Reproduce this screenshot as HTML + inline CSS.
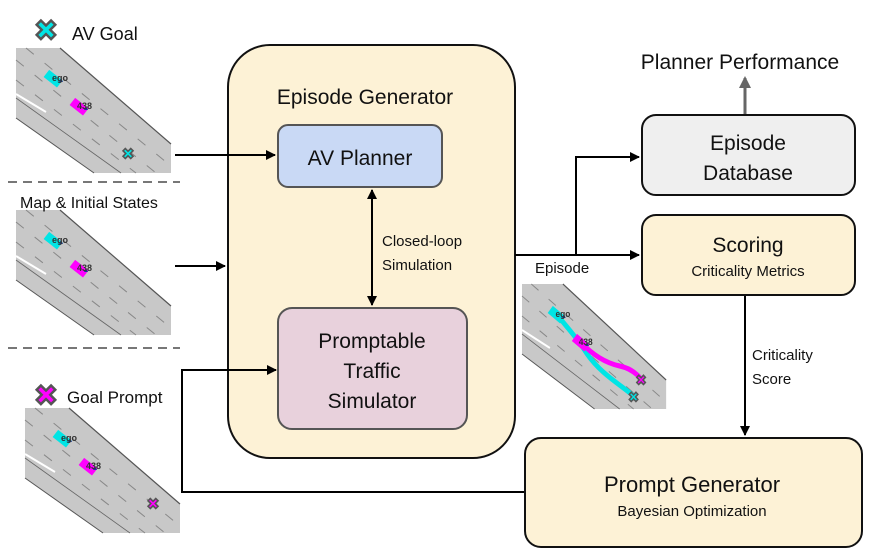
<!DOCTYPE html>
<html><head><meta charset="utf-8"><style>
body{margin:0;background:#fff;}
svg{display:block;font-family:"Liberation Sans",Arial,sans-serif;}
</style></head><body>
<svg width="894" height="552" viewBox="0 0 894 552" xmlns="http://www.w3.org/2000/svg">
<defs>
<marker id="ah" markerWidth="10" markerHeight="10" refX="9" refY="5" orient="auto" markerUnits="userSpaceOnUse">
<path d="M0,0 L10,5 L0,10 z" fill="#000"/></marker>
<marker id="ahs" markerWidth="10" markerHeight="10" refX="9" refY="5" orient="auto-start-reverse" markerUnits="userSpaceOnUse">
<path d="M0,0 L10,5 L0,10 z" fill="#000"/></marker>
<marker id="ahg" markerWidth="12" markerHeight="12" refX="10" refY="6" orient="auto" markerUnits="userSpaceOnUse">
<path d="M0,0 L12,6 L0,12 z" fill="#666"/></marker>
<g id="road">
<rect x="0" y="0" width="155" height="125" fill="#fff"/>
<polygon points="0,0 44,0 155,96 155,125 78,125 0,70" fill="#c8c8c8"/>
<line x1="44" y1="0" x2="155" y2="96" stroke="#555" stroke-width="1.2"/>
<line x1="0" y1="70" x2="78" y2="125" stroke="#555" stroke-width="1"/>
<line x1="0" y1="46" x2="30" y2="64" stroke="#fff" stroke-width="2"/>
<line x1="0" y1="50" x2="105" y2="125" stroke="#666" stroke-width="0.8"/>
<g stroke="#888" stroke-width="1" stroke-dasharray="10,14">
<line x1="0" y1="12" x2="140" y2="125"/>
<line x1="10" y1="0" x2="155" y2="118"/>
<line x1="0" y1="32" x2="120" y2="125"/>
</g>
</g>
<g id="cars">
<rect x="-8" y="-4" width="17" height="9" fill="#00e5e5" transform="translate(37,30) rotate(38)"/>
<rect x="-8" y="-4" width="17" height="9" fill="#f0f" transform="translate(63,58) rotate(38)"/>
<path d="M43,34 l2,-4 l2,4z" fill="#1a3a8a"/>
<path d="M68,62 l2,-4 l2,4z" fill="#1a3a8a"/>
<text x="36" y="33" font-size="9" fill="#333" font-weight="bold">ego</text>
<text x="61" y="61" font-size="9" fill="#333" font-weight="bold">438</text>
</g>
</defs>

<g transform="translate(16,48)"><use href="#road"/><use href="#cars"/>
<text x="112" y="111" font-size="15" font-weight="bold" fill="#00e5e5" stroke="#555" stroke-width="1" text-anchor="middle">✖</text></g>
<g transform="translate(16,210)"><use href="#road"/><use href="#cars"/></g>
<g transform="translate(25,408)"><use href="#road"/><use href="#cars"/>
<text x="128" y="101" font-size="15" font-weight="bold" fill="#f0f" stroke="#555" stroke-width="1" text-anchor="middle">✖</text></g>

<text x="46" y="40" font-size="28" font-weight="bold" fill="#00e5e5" stroke="#555" stroke-width="1.5" text-anchor="middle">✖</text>
<text x="72" y="40" font-size="18" fill="#111">AV Goal</text>
<text x="20" y="208" font-size="16" fill="#111">Map &amp; Initial States</text>
<text x="46" y="405" font-size="28" font-weight="bold" fill="#f0f" stroke="#555" stroke-width="1.5" text-anchor="middle">✖</text>
<text x="67" y="403" font-size="17" fill="#111">Goal Prompt</text>

<line x1="8" y1="182" x2="180" y2="182" stroke="#777" stroke-width="2" stroke-dasharray="9,6"/>
<line x1="8" y1="348" x2="180" y2="348" stroke="#777" stroke-width="2" stroke-dasharray="9,6"/>

<rect x="228" y="45" width="287" height="413" rx="42" fill="#fdf2d6" stroke="#111" stroke-width="2"/>
<text x="365" y="104" font-size="21" text-anchor="middle" fill="#111">Episode Generator</text>
<rect x="278" y="125" width="164" height="62" rx="10" fill="#c9d9f5" stroke="#555" stroke-width="2"/>
<text x="360" y="165" font-size="21" text-anchor="middle" fill="#111">AV Planner</text>
<rect x="278" y="308" width="189" height="121" rx="14" fill="#e8d1dc" stroke="#555" stroke-width="2"/>
<text x="372" y="348" font-size="21" text-anchor="middle" fill="#111">Promptable</text>
<text x="372" y="378" font-size="21" text-anchor="middle" fill="#111">Traffic</text>
<text x="372" y="408" font-size="21" text-anchor="middle" fill="#111">Simulator</text>
<line x1="372" y1="190" x2="372" y2="305" stroke="#000" stroke-width="2" marker-start="url(#ahs)" marker-end="url(#ah)"/>
<text x="382" y="246" font-size="15" fill="#111">Closed-loop</text>
<text x="382" y="270" font-size="15" fill="#111">Simulation</text>

<line x1="175" y1="155" x2="275" y2="155" stroke="#000" stroke-width="2" marker-end="url(#ah)"/>
<line x1="175" y1="266" x2="225" y2="266" stroke="#000" stroke-width="2" marker-end="url(#ah)"/>
<polyline points="525,492 182,492 182,370 276,370" fill="none" stroke="#000" stroke-width="2" marker-end="url(#ah)"/>

<polyline points="515,255 576,255 576,157 639,157" fill="none" stroke="#000" stroke-width="2" marker-end="url(#ah)"/>
<line x1="576" y1="255" x2="639" y2="255" stroke="#000" stroke-width="2" marker-end="url(#ah)"/>
<text x="535" y="273" font-size="15" fill="#111">Episode</text>
<g transform="translate(522,284) scale(0.93,1.0)"><use href="#road"/>
<path d="M37,30 C50,45 60,55 70,70 C85,90 105,100 120,112" stroke="#00e5e5" stroke-width="5" fill="none"/>
<path d="M63,58 C80,75 95,80 105,82 C115,84 122,88 128,95" stroke="#f0f" stroke-width="5" fill="none"/>
<use href="#cars"/>
<text x="128" y="101" font-size="14" font-weight="bold" fill="#f0f" stroke="#555" stroke-width="1" text-anchor="middle">✖</text>
<text x="120" y="118" font-size="14" font-weight="bold" fill="#00e5e5" stroke="#555" stroke-width="1" text-anchor="middle">✖</text></g>

<rect x="642" y="115" width="213" height="80" rx="14" fill="#efefef" stroke="#111" stroke-width="2"/>
<text x="748" y="150" font-size="21" text-anchor="middle" fill="#111">Episode</text>
<text x="748" y="180" font-size="21" text-anchor="middle" fill="#111">Database</text>
<line x1="745" y1="114" x2="745" y2="78" stroke="#666" stroke-width="3" marker-end="url(#ahg)"/>
<text x="740" y="69" font-size="21" text-anchor="middle" fill="#111">Planner Performance</text>

<rect x="642" y="215" width="213" height="80" rx="14" fill="#fdf2d6" stroke="#111" stroke-width="2"/>
<text x="748" y="252" font-size="21" text-anchor="middle" fill="#111">Scoring</text>
<text x="748" y="276" font-size="15" text-anchor="middle" fill="#111">Criticality Metrics</text>
<line x1="745" y1="296" x2="745" y2="435" stroke="#000" stroke-width="2" marker-end="url(#ah)"/>
<text x="752" y="360" font-size="15" fill="#111">Criticality</text>
<text x="752" y="384" font-size="15" fill="#111">Score</text>

<rect x="525" y="438" width="337" height="109" rx="16" fill="#fdf2d6" stroke="#111" stroke-width="2"/>
<text x="692" y="492" font-size="22" text-anchor="middle" fill="#111">Prompt Generator</text>
<text x="692" y="516" font-size="15" text-anchor="middle" fill="#111">Bayesian Optimization</text>
</svg>
</body></html>
